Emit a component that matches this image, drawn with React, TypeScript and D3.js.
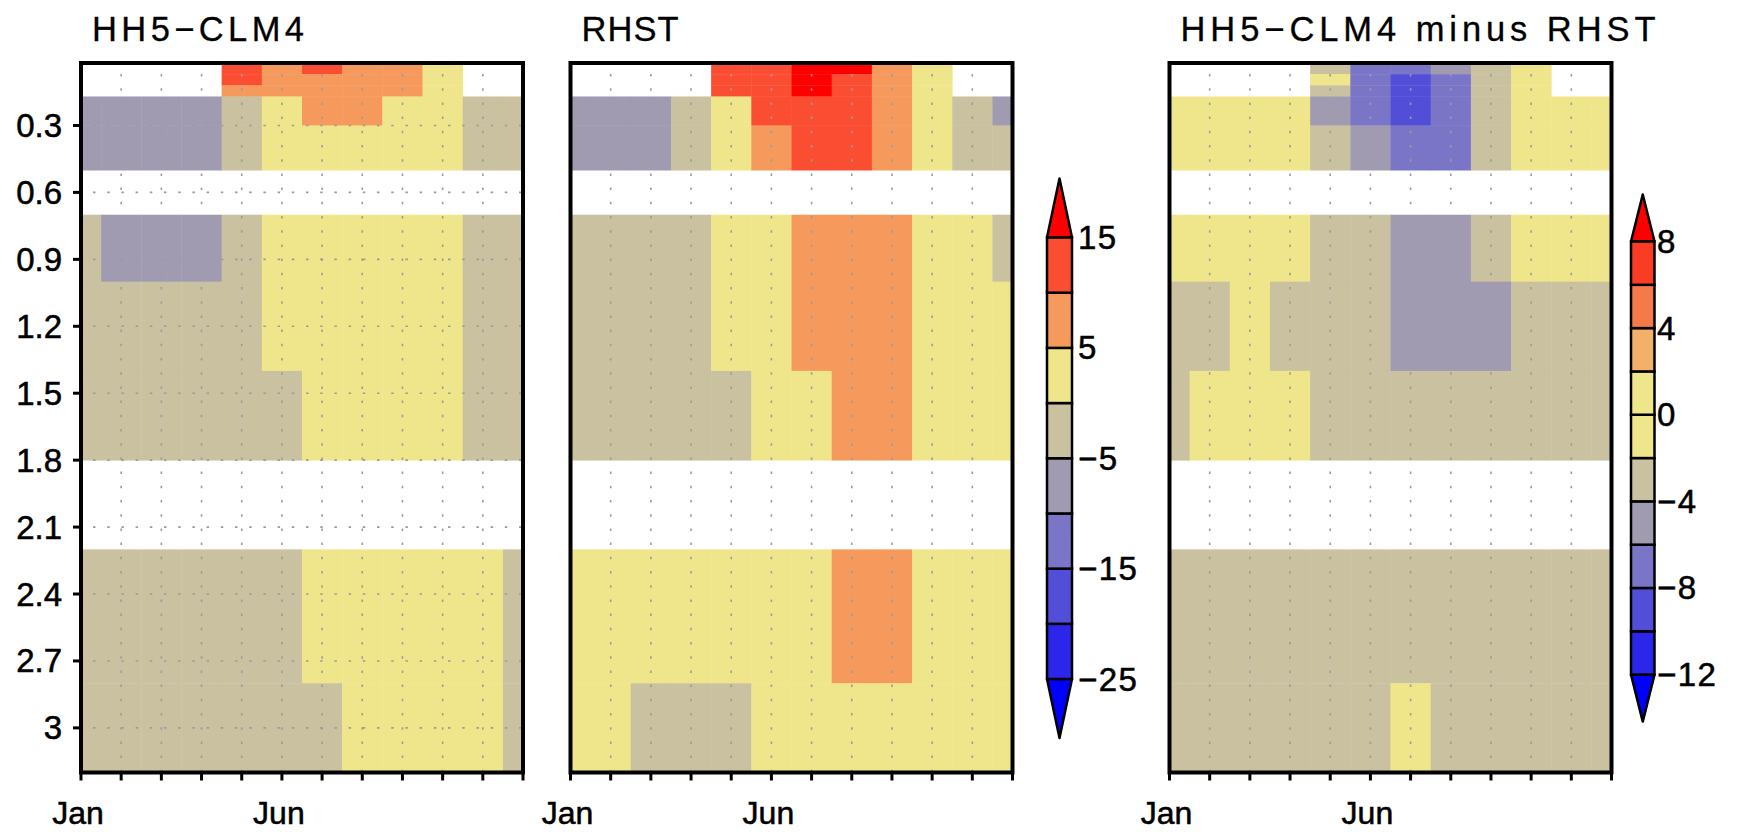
import React from 'react';
import * as d3 from 'd3';

// ---------- data ----------
const months = ['Jan', 'Feb', 'Mar', 'Apr', 'May', 'Jun', 'Jul', 'Aug', 'Sep', 'Oct', 'Nov', 'Dec'];
const monthLabels = ['Jan', '', '', '', '', 'Jun', '', '', '', '', '', ''];
// soil-layer depth bounds (m)
const depthEdges = [0.02, 0.07, 0.12, 0.17, 0.3, 0.5, 0.7, 1.0, 1.4, 1.8, 2.2, 2.8, 3.2];
const depthTicks = [0.3, 0.6, 0.9, 1.2, 1.5, 1.8, 2.1, 2.4, 2.7, 3.0];
const depthTickLabels = ['0.3', '0.6', '0.9', '1.2', '1.5', '1.8', '2.1', '2.4', '2.7', '3'];

const N = null;
// rows = depth layers (top -> bottom), columns = Jan..Dec
const hh5Clm4: (number | null)[][] = [
  [N, N, N, N, 12, 7, 12, 7, 7, 2, N, N],
  [N, N, N, N, 12, 7, 7, 7, 7, 2, N, N],
  [N, N, N, N, 7, 7, 7, 7, 7, 2, N, N],
  [-7, -7, -7, -7, -2, 2, 7, 7, 2, 2, -2, -2],
  [-7, -7, -7, -7, -2, 2, 2, 2, 2, 2, -2, -2],
  [N, N, N, N, N, N, N, N, N, N, N, N],
  [-2, -7, -7, -7, -2, 2, 2, 2, 2, 2, -2, -2],
  [-2, -2, -2, -2, -2, 2, 2, 2, 2, 2, -2, -2],
  [-2, -2, -2, -2, -2, -2, 2, 2, 2, 2, -2, -2],
  [N, N, N, N, N, N, N, N, N, N, N, N],
  [-2, -2, -2, -2, -2, -2, 2, 2, 2, 2, 2, -2],
  [-2, -2, -2, -2, -2, -2, -2, 2, 2, 2, 2, -2],
];
const rhst: (number | null)[][] = [
  [N, N, N, N, 12, 12, 17, 17, 7, 2, N, N],
  [N, N, N, N, 12, 12, 17, 12, 7, 2, N, N],
  [N, N, N, N, 12, 12, 17, 12, 7, 2, N, N],
  [-7, -7, -7, -2, 2, 12, 12, 12, 7, 2, -2, -7],
  [-7, -7, -7, -2, 2, 7, 12, 12, 7, 2, -2, -2],
  [N, N, N, N, N, N, N, N, N, N, N, N],
  [-2, -2, -2, -2, 2, 2, 7, 7, 7, 2, 2, -2],
  [-2, -2, -2, -2, 2, 2, 7, 7, 7, 2, 2, 2],
  [-2, -2, -2, -2, -2, 2, 2, 7, 7, 2, 2, 2],
  [N, N, N, N, N, N, N, N, N, N, N, N],
  [2, 2, 2, 2, 2, 2, 2, 7, 7, 2, 2, 2],
  [2, 2, -2, -2, -2, 2, 2, 2, 2, 2, 2, 2],
];
const diffValues: (number | null)[][] = [
  [N, N, N, N, -3, -7, -7, -5, -3, 1, N, N],
  [N, N, N, N, 1, -7, -9, -7, -3, 1, N, N],
  [N, N, N, N, -3, -7, -9, -7, -3, 1, N, N],
  [1, 1, 1, 1, -5, -7, -9, -7, -3, 1, 1, 1],
  [1, 1, 1, 1, -3, -5, -7, -7, -3, 1, 1, 1],
  [N, N, N, N, N, N, N, N, N, N, N, N],
  [1, 1, 1, 1, -3, -3, -5, -5, -3, 1, 1, 1],
  [-3, -3, 1, -3, -3, -3, -5, -5, -5, -3, -3, -3],
  [-3, 1, 1, 1, -3, -3, -3, -3, -3, -3, -3, -3],
  [N, N, N, N, N, N, N, N, N, N, N, N],
  [-3, -3, -3, -3, -3, -3, -3, -3, -3, -3, -3, -3],
  [-3, -3, -3, -3, -3, -3, 1, -3, -3, -3, -3, -3],
];

const absLevels = [-25, -20, -15, -10, -5, 0, 5, 10, 15];
const absColors = ['#0000FF', '#2B26EA', '#524ED7', '#7A75C7', '#A09BB0', '#C9C1A0', '#EFE68B', '#F5995C', '#FA4D32', '#FF0000'];
const diffLevels = [-12, -10, -8, -6, -4, -2, 0, 2, 4, 6, 8];
const diffColors = ['#0000FF', '#2B26EA', '#524ED7', '#7A75C7', '#A09BB0', '#C9C1A0', '#EFE68B', '#EFE68B', '#F2B06A', '#F57A49', '#F93D25', '#FF0000'];

const titles = ['HH5\u2212CLM4', 'RHST', 'HH5\u2212CLM4  minus  RHST'];

// ---------- layout ----------
const W = 1741;
const H = 832;
const FONT = '"Liberation Sans", Arial, Helvetica, sans-serif';
const PW = 442;
const plotTop = 63;
const plotBottom = 772.5;
const panelLefts = [81, 570.5, 1169.5];
const titleWidths = [212, 97, 475];
const TS = 0.55; // text stroke for a slightly heavier look

const y = d3.scaleLinear().domain([depthEdges[0], depthEdges[depthEdges.length - 1]]).range([plotTop, plotBottom]);
const fmt = d3.format('d');

function Panel({ left, data, color, title, titleW, showY }: any) {
  const x = d3.scaleLinear().domain([0, months.length - 1]).range([left, left + PW]);
  const x0 = x(0);
  const x1 = x(months.length - 1);
  const cells: any[] = [];
  data.forEach((row: (number | null)[], r: number) => {
    row.forEach((v, m) => {
      if (v === null) return;
      const a = Math.max(x0, x(m - 0.5));
      const b = Math.min(x1, x(m + 0.5));
      const t = y(depthEdges[r]);
      const bt = y(depthEdges[r + 1]);
      cells.push(
        <rect key={`${r}-${m}`} x={a} y={t} width={b - a + 0.4} height={bt - t + 0.4} fill={color(v)} />
      );
    });
  });
  return (
    <g>
      <text x={left + 11} y={40.5} fontSize={34.5} fontFamily={FONT} textLength={titleW} lengthAdjust="spacing"
        fill="#000" stroke="#000" strokeWidth={0.3}>
        {title}
      </text>
      {cells}
      {months.slice(1, -1).map((_, i) => (
        <line key={`gv${i}`} x1={x(i + 1)} x2={x(i + 1)} y1={plotTop} y2={plotBottom}
          stroke="#9c9c9c" strokeWidth={1.6} strokeDasharray="2.5 11.7" strokeDashoffset={-11} />
      ))}
      {showY && depthTicks.map((d, i) => (
        <line key={`gh${i}`} x1={x0} x2={x1} y1={y(d)} y2={y(d)}
          stroke="#9c9c9c" strokeWidth={1.6} strokeDasharray="2.5 11.7" strokeDashoffset={-12} />
      ))}
      <rect x={x0} y={plotTop} width={x1 - x0} height={plotBottom - plotTop} fill="none" stroke="#000" strokeWidth={4} />
      {months.map((_, i) => (
        <line key={`xt${i}`} x1={x(i)} x2={x(i)} y1={plotBottom} y2={plotBottom + 8} stroke="#000" strokeWidth={3} />
      ))}
      {monthLabels.map((l, i) => l ? (
        <text key={`xl${i}`} x={x(i) - 3} y={824} fontSize={32} fontFamily={FONT} textAnchor="middle"
          fill="#000" stroke="#000" strokeWidth={TS}>{l}</text>
      ) : null)}
      {showY && depthTicks.map((d, i) => (
        <g key={`yt${i}`}>
          <line x1={x0 - 8} x2={x0} y1={y(d)} y2={y(d)} stroke="#000" strokeWidth={3} />
          <text x={62} y={y(d) + 11.5} fontSize={33} fontFamily={FONT} textAnchor="end"
            fill="#000" stroke="#000" strokeWidth={TS}>{depthTickLabels[i]}</text>
        </g>
      ))}
    </g>
  );
}

function ColorBar({ levels, colors, x0, x1, top, bottom, triH, labelX }: any) {
  const cy = d3.scaleLinear().domain([levels[0], levels[levels.length - 1]]).range([bottom, top]);
  const xm = (x0 + x1) / 2;
  const n = levels.length - 1;
  return (
    <g>
      <path d={`M${x0},${top} L${x1},${top} L${xm},${top - triH} Z`} fill={colors[colors.length - 1]} stroke="#000" strokeWidth={2.5} strokeLinejoin="round" />
      <path d={`M${x0},${bottom} L${x1},${bottom} L${xm},${bottom + triH} Z`} fill={colors[0]} stroke="#000" strokeWidth={2.5} strokeLinejoin="round" />
      {d3.range(n).map((i) => (
        <rect key={i} x={x0} y={cy(levels[i + 1])} width={x1 - x0} height={cy(levels[i]) - cy(levels[i + 1])}
          fill={colors[i + 1]} stroke="#000" strokeWidth={2.5} />
      ))}
      {levels.map((l: number, i: number) => i % 2 === 0 ? (
        <text key={`l${i}`} x={labelX} y={cy(l) + 11.5} fontSize={33} fontFamily={FONT} letterSpacing={1.5}
          fill="#000" stroke="#000" strokeWidth={TS}>{fmt(l)}</text>
      ) : null)}
    </g>
  );
}

export default function App() {
  const absColor = d3.scaleThreshold<number, string>().domain(absLevels).range(absColors);
  const diffColor = d3.scaleThreshold<number, string>().domain(diffLevels).range(diffColors);
  return (
    <svg width={W} height={H} viewBox={`0 0 ${W} ${H}`} style={{ position: 'absolute', left: 0, top: 0, background: '#fff' }}>
      <rect x={0} y={0} width={W} height={H} fill="#fff" />
      <Panel left={panelLefts[0]} data={hh5Clm4} color={absColor} title={titles[0]} titleW={titleWidths[0]} showY />
      <Panel left={panelLefts[1]} data={rhst} color={absColor} title={titles[1]} titleW={titleWidths[1]} showY={false} />
      <Panel left={panelLefts[2]} data={diffValues} color={diffColor} title={titles[2]} titleW={titleWidths[2]} showY={false} />
      <ColorBar levels={absLevels} colors={absColors} x0={1047} x1={1072} top={237.5} bottom={679} triH={59} labelX={1078} />
      <ColorBar levels={diffLevels} colors={diffColors} x0={1631} x1={1654.5} top={241.5} bottom={674.6} triH={47} labelX={1657} />
    </svg>
  );
}
